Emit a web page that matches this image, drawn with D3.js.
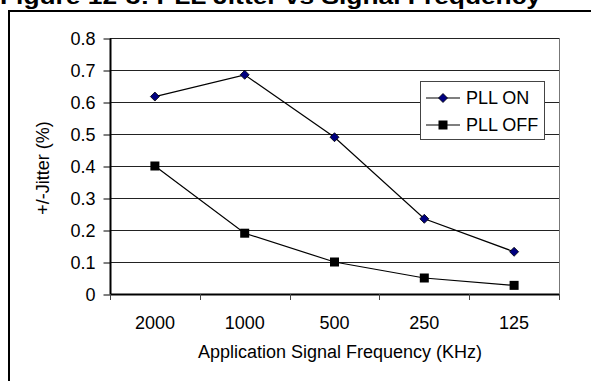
<!DOCTYPE html>
<meta charset="utf-8">
<style>
  html, body { margin:0; padding:0; overflow:hidden; background:#fff }
  text { font-family: Arial, "Liberation Sans", sans-serif; fill:#000 }
</style>
<svg id="mainsvg" width="591" height="381"></svg>
<script src="https://cdn.jsdelivr.net/npm/d3@7"></script>
<script>

var categories = ["2000", "1000", "500", "250", "125"];
var pllOn  = [0.617, 0.685, 0.49, 0.235, 0.132];
var pllOff = [0.40, 0.19, 0.10, 0.05, 0.027];
var yTicks = [0, 0.1, 0.2, 0.3, 0.4, 0.5, 0.6, 0.7, 0.8];
var seriesNames = ["PLL ON", "PLL OFF"];

var svg = d3.select("#mainsvg");

var pLeft = 110, pRight = 559, pTop = 38, pBottom = 294;

var x = d3.scaleBand().domain(categories).range([pLeft, pRight]);
var y = d3.scaleLinear().domain([0, 0.8]).range([pBottom, pTop]);

// figure frame, title mostly cut off at top
svg.append("text")
    .attr("x", 0).attr("y", 4)
    .attr("font-size", "22px").attr("font-weight", "bold")
    .attr("textLength", 541).attr("lengthAdjust", "spacingAndGlyphs")
    .text("Figure 12-3: PLL Jitter vs Signal Frequency");

svg.append("line").attr("x1", 8).attr("x2", 591).attr("y1", 11).attr("y2", 11)
    .attr("stroke", "#000").attr("stroke-width", 2);
svg.append("line").attr("x1", 9).attr("x2", 9).attr("y1", 10).attr("y2", 381)
    .attr("stroke", "#000").attr("stroke-width", 2);

// gridlines
svg.append("g").selectAll("line").data(yTicks.slice(1)).enter().append("line")
    .attr("x1", pLeft).attr("x2", pRight)
    .attr("y1", function(d) { return Math.round(y(d)) + 0.5; })
    .attr("y2", function(d) { return Math.round(y(d)) + 0.5; })
    .attr("stroke", "#222").attr("stroke-width", 1);

// right border of plot area
svg.append("line").attr("x1", pRight + 0.5).attr("x2", pRight + 0.5).attr("y1", pTop).attr("y2", pBottom)
    .attr("stroke", "#777");

// y axis
var yAxis = d3.axisLeft(y).tickValues(yTicks).tickSize(7).tickPadding(8)
    .tickFormat(function(d) { return d === 0 ? "0" : d3.format(".1f")(d); });
var gy = svg.append("g").attr("transform", "translate(" + (pLeft + 0.5) + ",0.5)").call(yAxis);
gy.select(".domain").attr("stroke", "#000").attr("stroke-width", 2).attr("d", "M0," + pTop + "V" + pBottom);
gy.selectAll(".tick line").attr("stroke", "#000");
gy.selectAll(".tick text").attr("font-size", "18px").attr("font-family", "Arial, 'Liberation Sans', sans-serif");

// x axis
svg.append("line").attr("x1", pLeft).attr("x2", pRight).attr("y1", pBottom + 0.5).attr("y2", pBottom + 0.5)
    .attr("stroke", "#000").attr("stroke-width", 2);
var bounds = categories.map(function(c) { return x(c); }).concat([pRight]);
svg.append("g").selectAll("line").data(bounds).enter().append("line")
    .attr("x1", function(d) { return Math.round(d) + 0.5; })
    .attr("x2", function(d) { return Math.round(d) + 0.5; })
    .attr("y1", pBottom).attr("y2", pBottom + 6)
    .attr("stroke", "#444");
svg.append("g").selectAll("text").data(categories).enter().append("text")
    .attr("x", function(d) { return x(d) + x.bandwidth() / 2; })
    .attr("y", 329)
    .attr("text-anchor", "middle").attr("font-size", "18px")
    .text(function(d) { return d; });

svg.append("text").attr("x", 340).attr("y", 358).attr("text-anchor", "middle")
    .attr("font-size", "18px").text("Application Signal Frequency (KHz)");

svg.append("text").attr("transform", "translate(49,168) rotate(-90)")
    .attr("text-anchor", "middle").attr("font-size", "18px").text("+/-Jitter (%)");

// series
var line = d3.line()
    .x(function(d, i) { return x(categories[i]) + x.bandwidth() / 2; })
    .y(function(d) { return y(d); });

[pllOn, pllOff].forEach(function(s) {
    svg.append("path").datum(s).attr("d", line)
        .attr("fill", "none").attr("stroke", "#000").attr("stroke-width", 1.2);
});

function diamond(g, cx, cy) {
    g.append("path")
        .attr("d", "M" + cx + "," + (cy - 4.5) + "L" + (cx + 4.5) + "," + cy + "L" + cx + "," + (cy + 4.5) + "L" + (cx - 4.5) + "," + cy + "Z")
        .attr("fill", "#000080").attr("stroke", "#000").attr("stroke-width", 0.8);
}
function square(g, cx, cy) {
    g.append("rect").attr("x", cx - 4.5).attr("y", cy - 4.5).attr("width", 9).attr("height", 9)
        .attr("fill", "#000");
}

var marks = svg.append("g");
pllOn.forEach(function(d, i) { diamond(marks, x(categories[i]) + x.bandwidth() / 2, y(d)); });
pllOff.forEach(function(d, i) { square(marks, x(categories[i]) + x.bandwidth() / 2, y(d)); });

// legend
var lg = svg.append("g");
lg.append("rect").attr("x", 420.5).attr("y", 81.5).attr("width", 124).attr("height", 58)
    .attr("fill", "#fff").attr("stroke", "#444");
seriesNames.forEach(function(n, i) {
    var ly = 98 + i * 27;
    lg.append("line").attr("x1", 426).attr("x2", 460).attr("y1", ly).attr("y2", ly)
        .attr("stroke", "#000").attr("stroke-width", 1.2);
    if (i === 0) diamond(lg, 443, ly); else square(lg, 443, ly);
    lg.append("text").attr("x", 466).attr("y", ly + 6).attr("font-size", "18px").text(n);
});

</script>
